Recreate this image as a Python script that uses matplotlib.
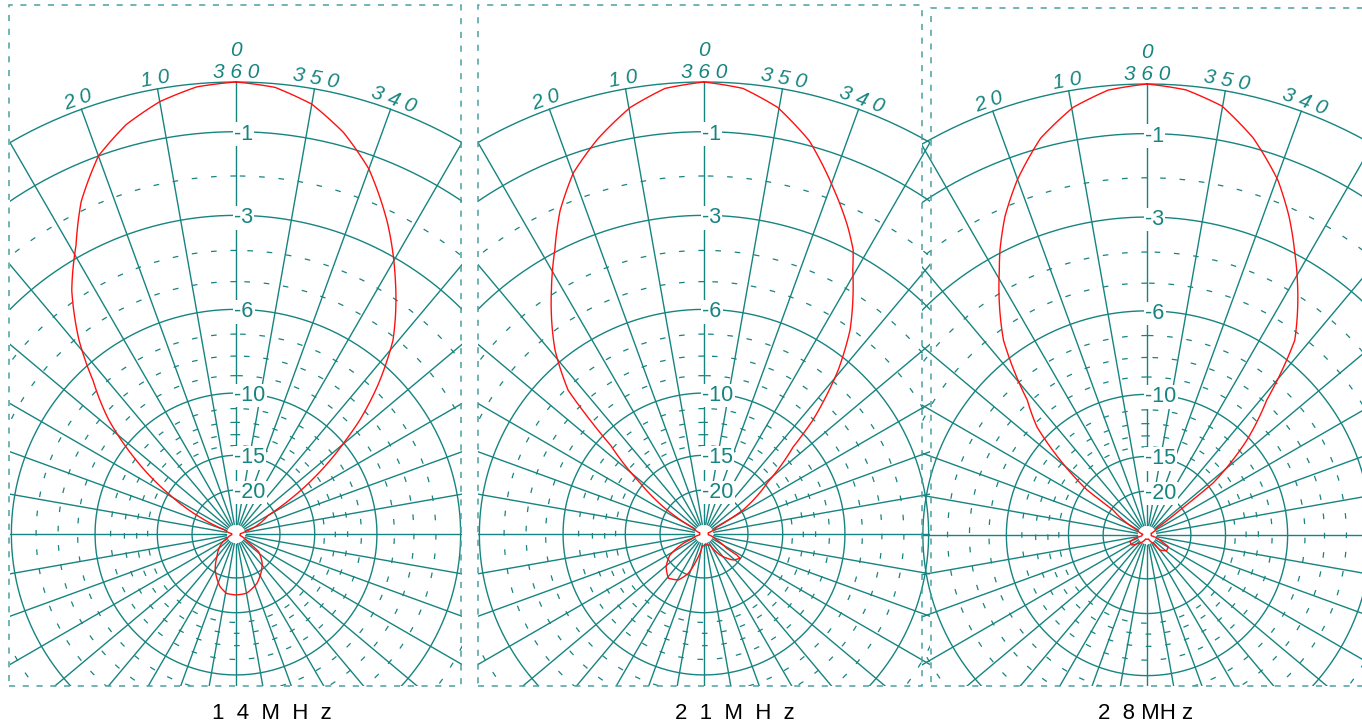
import numpy as np
import matplotlib
matplotlib.use("Agg")
import matplotlib.pyplot as plt
from matplotlib.patches import Rectangle

# ---------------- data ----------------
titles = ["1  4  M  H  z", "2  1  M  H  z", "2  8 MH z"]
solid_db = [0, -1, -3, -6, -10, -15, -20]
dashed_db = [-2, -4, -5, -7, -8, -9, -11, -12, -13, -14]
label_db = [-1, -3, -6, -10, -15, -20]
spoke_deg = list(range(0, 360, 10))
angle_label_deg = [0, 10, 20, 350, 340]
angle_label_txt = ["3 6 0", "1 0", "2 0", "3 5 0", "3 4 0"]

p14_deg = [0, 5, 10, 15, 20, 25, 29, 34, 39, 43, 48, 53, 59, 65, 70, 85, 100,
           115, 121, 140, 150, 163, 171, 180, 190, 203, 222, 232, 236, 250, 275,
           285, 300, 304, 310.5, 312.6, 316.4, 321, 328, 334, 340, 345, 350,
           355, 360]
p14_db = [0, -0.06, -0.25, -0.55, -1.0, -1.8, -2.7, -3.7, -5.1, -6.6, -8.3,
          -10.8, -14.9, -20.9, -31, -40, -40, -33, -29, -23.4, -20.5, -18.1,
          -17.3, -17.2, -17.3, -18.3, -21.0, -23.7, -30, -40, -40, -33, -21.5,
          -15, -9.8, -8.5, -6.75, -5.1, -3.5, -2.3, -1.3, -0.72, -0.3, -0.07, 0]

p21_deg = [0, 5, 9.8, 15, 19.9, 24, 27.7, 32, 39, 43.4, 45, 46.5, 51.4, 57, 61,
           75, 100, 112, 114.2, 121.7, 130.7, 141.1, 150.8, 158.2, 164.3, 172,
           190, 208.6, 217.3, 228.4, 236, 237.3, 237.8, 244.7, 260, 285, 298.3,
           301.6, 309, 314.3, 316.3, 320.7, 324.4, 330.6, 332.3, 335, 339.6,
           345, 350.2, 355, 360]
p21_db = [0, -0.09, -0.37, -0.85, -1.4, -2.1, -2.94, -3.87, -5.55, -7.1, -8.86,
          -10.8, -14.7, -20, -30.7, -40, -40, -30, -25.7, -20.8, -18.9, -17.8,
          -18.45, -20.3, -24.2, -31, -32, -30.8, -24.4, -21.0, -20.1, -21.05,
          -24.3, -29.8, -40, -40, -29.3, -19.65, -14.7, -11.07, -9.04, -6.5,
          -5.05, -3.43, -2.94, -2.45, -1.72, -0.9, -0.37, -0.09, 0]

p28_deg = [0, 5, 9.8, 15, 20.1, 24, 27.3, 29.2, 36.4, 41.6, 45.5, 49.2, 53.1,
           53.7, 63, 80, 100, 111.5, 123, 133.7, 160, 200, 217, 221, 231.4,
           241.2, 245.5, 260, 290, 305, 307.1, 308.2, 313.5, 318.4, 322.8,
           329.4, 332.6, 336, 339.7, 345, 350.1, 355, 360]
p28_db = [0, -0.085, -0.33, -0.8, -1.52, -2.2, -2.93, -3.42, -5.35, -7.87, -9.2,
          -11.75, -15.4, -20.35, -31.7, -40, -38, -27.5, -27.5, -31.1, -40, -40,
          -32.4, -26.8, -24.8, -25.1, -28.6, -40, -40, -31, -20.5, -14.4, -10.2,
          -7.87, -5.26, -3.63, -2.93, -2.2, -1.52, -0.8, -0.3, -0.08, 0]

patterns = [(p14_deg, p14_db), (p21_deg, p21_db), (p28_deg, p28_db)]

# ---------------- layout / style ----------------
W, H = 1362, 725
GRID = "#168480"
BORDER = "#4a9f9f"
RED = "#ff1010"
FONT = ["Liberation Sans", "DejaVu Sans"]
R_HOLE = 0.022
BOTTOM = 686

panels = [
    dict(cx=236, cy=534, R=452, border=(9, 461, 5, 686), tx=272),
    dict(cx=704, cy=534, R=452, border=(478, 922, 5, 686), tx=735),
    dict(cx=1147, cy=535, R=451, border=(931, 1380, 8, 686), tx=1146),
]


def fx(x):
    return x / W


def fy(y):
    return 1 - y / H


def rr(db):
    return 0.89 ** (-np.asarray(db, dtype=float))


plt.rcParams["font.family"] = FONT
fig = plt.figure(figsize=(W / 100, H / 100), dpi=100)
fig.patch.set_facecolor("white")

th = np.linspace(0, 2 * np.pi, 721)

for p, title, (pdeg, pdb) in zip(panels, titles, patterns):
    cx, cy, R = p["cx"], p["cy"], p["R"]
    ax = fig.add_axes([fx(cx - R), fy(cy + R), 2 * R / W, 2 * R / H],
                      projection="polar")
    ax.set_theta_zero_location("N")
    ax.set_theta_direction(1)
    ax.set_ylim(0, 1)
    ax.set_axis_off()

    clip = Rectangle((fx(cx - R / 2), fy(BOTTOM)), R / W, BOTTOM / H,
                     transform=fig.transFigure)
    arts = []
    for d in solid_db:
        arts += ax.plot(th, np.full_like(th, rr(d)), color=GRID, lw=1.0,
                        zorder=2)
    for d in dashed_db:
        arts += ax.plot(th, np.full_like(th, rr(d)), color=GRID, lw=0.9,
                        ls=(0, (4.5, 11)), zorder=2)
    for a in spoke_deg:
        arts += ax.plot([np.deg2rad(a)] * 2, [R_HOLE, 1], color=GRID, lw=1.0,
                        zorder=2)
    curve, = ax.plot(np.deg2rad(pdeg), rr(pdb), color=RED, lw=1.0, zorder=2.5)
    # draw the segments as straight lines in (angle, radius) space
    curve.get_path()._interpolation_steps = 40
    arts.append(curve)
    for a in arts:
        a.set_clip_path(clip)

    # dB labels along the 0 deg spoke
    for d in label_db:
        ax.annotate(f"{d}", xy=(0, rr(d)), xytext=(-2, 0),
                    textcoords="offset pixels", ha="left",
                    va="center_baseline", fontsize=15.5, color=GRID, zorder=4,
                    bbox=dict(boxstyle="square,pad=0.06", fc="white",
                              ec="none"))

    # angle labels
    for a, s in zip(angle_label_deg, angle_label_txt):
        rot = a if a <= 180 else a - 360
        ax.text(np.deg2rad(a), 1.022, s, rotation=rot, rotation_mode="anchor",
                ha="center", va="center", fontsize=15, style="italic",
                color=GRID, zorder=4)
    ax.text(0, 1.07, "0", ha="center", va="center", fontsize=15,
            style="italic", color=GRID, zorder=4)

    # dashed frame
    x0, x1, y0, y1 = p["border"]
    fig.add_artist(Rectangle((fx(x0), fy(y1)), (x1 - x0) / W, (y1 - y0) / H,
                             transform=fig.transFigure, fill=False,
                             ec=BORDER, lw=1.1, ls=(0, (4, 5))))

    fig.text(fx(p["tx"]), fy(719), title, ha="center", va="baseline",
             fontsize=16, color="black")

fig.savefig("out.png", dpi=100, facecolor="white")
